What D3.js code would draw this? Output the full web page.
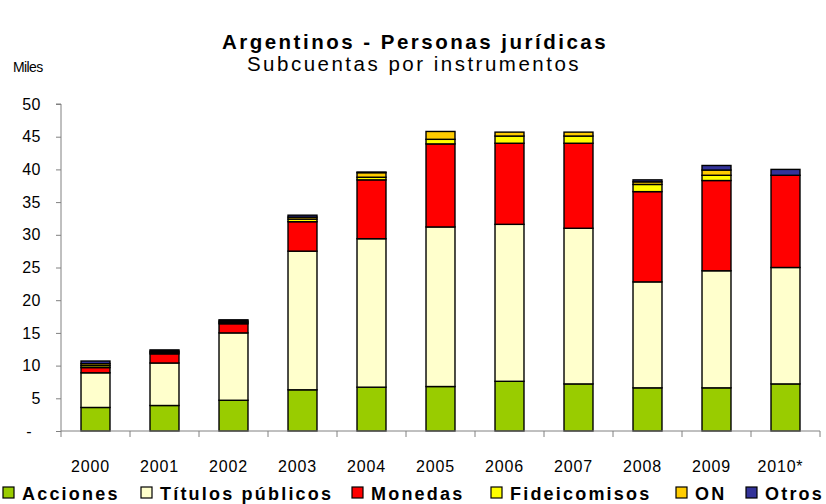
<!DOCTYPE html>
<html>
<head>
<meta charset="utf-8">
<script src="https://cdn.jsdelivr.net/npm/d3@7"></script>
<style>
  body { margin: 0; background: #fff; }
  svg { display: block; font-family: "Liberation Sans", Arial, sans-serif; }
</style>
</head>
<body>
<svg id="chart" width="826" height="504"></svg>
<script>
const years = ["2000","2001","2002","2003","2004","2005","2006","2007","2008","2009","2010*"];
const seriesNames = ["Acciones","Títulos públicos","Monedas","Fideicomisos","ON","Otros"];
const seriesColors = ["#99CC00","#FFFFCC","#FF0000","#FFFF00","#FFCC00","#333399"];
const acciones      = [3.6, 3.9, 4.7, 6.3, 6.7, 6.8, 7.6, 7.2, 6.6, 6.6, 7.2];
const titulos       = [5.3, 6.5, 10.3, 21.2, 22.7, 24.4, 24.0, 23.8, 16.2, 17.9, 17.8];
const monedas       = [0.8, 1.4, 1.4, 4.5, 9.0, 12.7, 12.4, 13.0, 13.8, 13.8, 14.1];
const fideicomisos  = [0.3, 0.2, 0.2, 0.4, 0.4, 0.7, 1.1, 1.1, 1.1, 0.8, 0.0];
const on            = [0.3, 0.2, 0.2, 0.3, 0.7, 1.2, 0.6, 0.6, 0.4, 0.8, 0.0];
const otros         = [0.4, 0.2, 0.2, 0.3, 0.1, 0.0, 0.0, 0.0, 0.3, 0.7, 0.9];
const yTicks = [0,5,10,15,20,25,30,35,40,45,50];

const seriesData = [acciones, titulos, monedas, fideicomisos, on, otros];
const keys = seriesNames;
const table = years.map((y, i) => {
  const row = { year: y };
  keys.forEach((k, j) => row[k] = seriesData[j][i]);
  return row;
});

const svg = d3.select("#chart");
const x0 = 61, x1 = 820, yTop = 104, yBot = 431;

const x = d3.scaleBand().domain(years).range([x0, x1]).paddingInner(0.58).paddingOuter(0.29);
const y = d3.scaleLinear().domain([0, 50]).range([yBot, yTop]);

// Titles
svg.append("text").attr("x", 415).attr("y", 49).attr("text-anchor", "middle")
  .attr("font-size", 20.5).attr("font-weight", "bold").attr("fill", "#000")
  .attr("letter-spacing", 2.5)
  .text("Argentinos - Personas jurídicas");
svg.append("text").attr("x", 414).attr("y", 71).attr("text-anchor", "middle")
  .attr("font-size", 20.5).attr("fill", "#000").attr("letter-spacing", 2.5)
  .text("Subcuentas por instrumentos");
svg.append("text").attr("x", 13).attr("y", 72)
  .attr("font-size", 14).attr("fill", "#000").attr("letter-spacing", -0.6)
  .text("Miles");

// Stacked bars
const stack = d3.stack().keys(keys)(table);
const color = d3.scaleOrdinal().domain(keys).range(seriesColors);
const groups = svg.append("g").selectAll("g").data(stack).join("g")
  .attr("fill", d => color(d.key));
groups.selectAll("rect").data(d => d.filter(p => p[1] - p[0] > 0)).join("rect")
  .attr("x", d => x(d.data.year))
  .attr("width", x.bandwidth())
  .attr("y", d => y(d[1]))
  .attr("height", d => y(d[0]) - y(d[1]))
  .attr("stroke", "#000").attr("stroke-width", 1.4);

// Y axis
const yAxis = d3.axisLeft(y).tickValues(yTicks).tickSize(5).tickPadding(15)
  .tickFormat(d => d === 0 ? "-" : d);
const gy = svg.append("g").attr("transform", `translate(${x0},0)`).call(yAxis);
gy.select(".domain").attr("stroke", "#808080").attr("d", `M-5,${yTop}H0V${yBot}`);
gy.selectAll(".tick line").attr("stroke", "#808080");
gy.selectAll("text").attr("font-size", 16).attr("fill", "#000").attr("letter-spacing", 0.5)
  .attr("font-family", "Liberation Sans, Arial, sans-serif")
  .attr("dx", d => d === 0 ? -9 : 0);

// X axis
const step = x.step();
const boundaries = d3.range(years.length + 1).map(i => x0 + i * step);
const gx = svg.append("g");
gx.append("line").attr("x1", x0).attr("x2", x1).attr("y1", yBot).attr("y2", yBot)
  .attr("stroke", "#808080");
gx.selectAll("line.tk").data(boundaries).join("line").attr("class", "tk")
  .attr("x1", d => d).attr("x2", d => d).attr("y1", yBot).attr("y2", yBot + 6)
  .attr("stroke", "#808080");
gx.selectAll("text").data(years).join("text")
  .attr("x", d => x(d) + x.bandwidth() / 2 - 5)
  .attr("y", 472).attr("text-anchor", "middle")
  .attr("font-size", 16).attr("fill", "#000").attr("letter-spacing", 0.8)
  .text(d => d);

// Legend
const legendX = [3, 141, 352, 491, 676, 746];
const lg = svg.append("g").selectAll("g").data(keys).join("g")
  .attr("transform", (d, i) => `translate(${legendX[i]},487)`);
lg.append("rect").attr("x", 0).attr("y", 0).attr("width", 11).attr("height", 11)
  .attr("fill", d => color(d)).attr("stroke", "#000").attr("stroke-width", 1.2);
lg.append("text").attr("x", 19).attr("y", 13)
  .attr("font-size", 18).attr("font-weight", "bold").attr("fill", "#000")
  .attr("letter-spacing", 2.2)
  .text(d => d);
</script>
</body>
</html>
